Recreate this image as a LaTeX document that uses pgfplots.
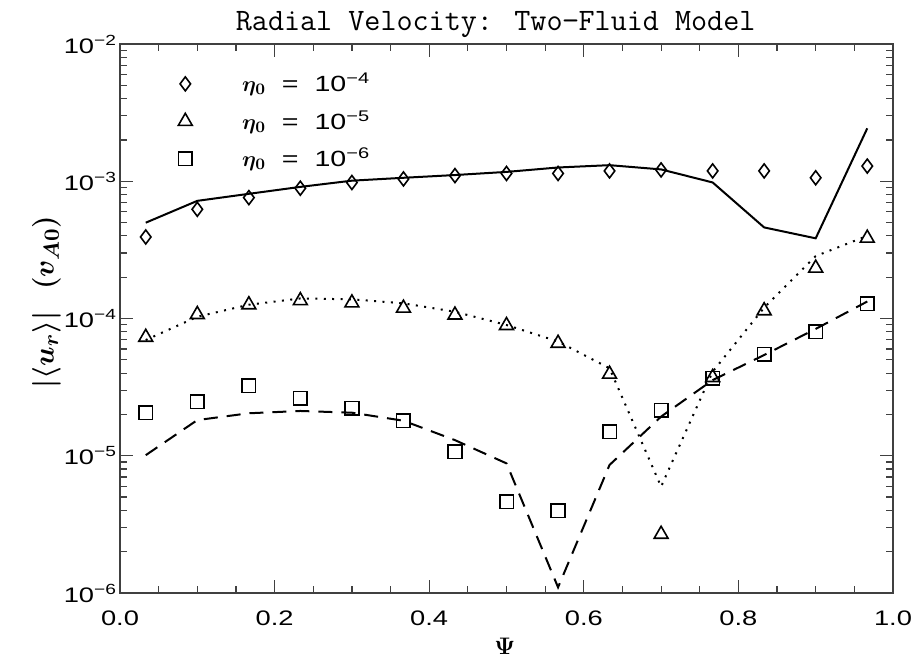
\documentclass[border=0pt]{standalone}
\usepackage{fontspec}
\setmainfont{Liberation Sans}[FakeStretch=1.3]
\usepackage{bm}
\usepackage{pgfplots}
\pgfplotsset{compat=1.18}
\begin{document}
\begin{tikzpicture}
\begin{axis}[
  scale only axis,
  width=386.5bp, height=274.5bp,
  ymode=log,
  xmin=0, xmax=1, ymin=1e-6, ymax=1e-2,
  xtick={0,0.2,0.4,0.6,0.8,1.0},
  xticklabels={0.0,0.2,0.4,0.6,0.8,1.0},
  minor xtick={0.05,0.1,0.15,0.25,0.3,0.35,0.45,0.5,0.55,0.65,0.7,0.75,0.85,0.9,0.95},
  ytick={1e-6,1e-5,1e-4,1e-3,1e-2},
  yticklabels={10\textsuperscript{\textminus 6},10\textsuperscript{\textminus 5},10\textsuperscript{\textminus 4},10\textsuperscript{\textminus 3},10\textsuperscript{\textminus 2}},
  minor ytick={2e-6,3e-6,4e-6,5e-6,6e-6,7e-6,8e-6,9e-6,2e-5,3e-5,4e-5,5e-5,6e-5,7e-5,8e-5,9e-5,2e-4,3e-4,4e-4,5e-4,6e-4,7e-4,8e-4,9e-4,2e-3,3e-3,4e-3,5e-3,6e-3,7e-3,8e-3,9e-3},
  tick align=inside,
  major tick length=6.5bp,
  minor tick length=3.5bp,
  every tick/.append style={black!75, line width=0.6bp},
  axis line style={black!75, line width=0.8bp},
  tick label style={font=\fontsize{10.5bp}{12bp}\selectfont},
  xticklabel style={yshift=-5.5bp},
  yticklabel style={xshift=2bp},
  title={\ttfamily\fontsize{15.6bp}{18bp}\selectfont Radial Velocity: Two\textminus Fluid Model},
  title style={at={(axis description cs:0.486,1)}, anchor=base, yshift=1bp, inner sep=0pt},
  xlabel={$\bm{\Psi}$},
  xlabel style={at={(axis description cs:0.498,-0.097)}, anchor=center, font=\fontsize{13bp}{15bp}\selectfont},
  ylabel={$\bm{\vert\langle u_r\rangle\vert}\ \ \bm{(v_{A0})}$},
  ylabel style={at={(axis description cs:-0.095,0.53)}, anchor=center, font=\fontsize{15bp}{17bp}\selectfont},
  legend style={at={(axis description cs:0.075,0.955)}, anchor=north west, draw=none, fill=none,
    font=\fontsize{11bp}{13bp}\selectfont, row sep=4bp, inner sep=0pt,
    /tikz/every odd column/.append style={column sep=23bp}},
  legend cell align=left,
  clip=false,
]
\addplot[only marks, mark=diamond, mark size=3.5bp, mark options={line width=0.8bp, fill=white}] coordinates {
(0.0333,3.93e-4)(0.1,6.25e-4)(0.1667,7.6e-4)(0.2333,8.9e-4)(0.3,9.8e-4)(0.3667,1.04e-3)(0.4333,1.10e-3)(0.5,1.14e-3)(0.5667,1.14e-3)(0.6333,1.19e-3)(0.7,1.21e-3)(0.7667,1.19e-3)(0.8333,1.19e-3)(0.9,1.06e-3)(0.9667,1.29e-3)};
\addlegendentry{$\bm{\eta}_{\bm{0}}$\ \ =\ \ 10\textsuperscript{\textminus 4}}
\addplot[only marks, mark=triangle, mark size=4bp, mark options={line width=0.8bp}] coordinates {
(0.0333,7.3e-5)(0.1,1.07e-4)(0.1667,1.26e-4)(0.2333,1.35e-4)(0.3,1.30e-4)(0.3667,1.19e-4)(0.4333,1.06e-4)(0.5,8.9e-5)(0.5667,6.6e-5)(0.6333,3.93e-5)(0.7,2.68e-6)(0.7667,3.72e-5)(0.8333,1.14e-4)(0.9,2.33e-4)(0.9667,3.85e-4)};
\addlegendentry{$\bm{\eta}_{\bm{0}}$\ \ =\ \ 10\textsuperscript{\textminus 5}}
\addplot[only marks, mark=square, mark size=3.4bp, mark options={line width=0.8bp}] coordinates {
(0.0333,2.06e-5)(0.1,2.48e-5)(0.1667,3.24e-5)(0.2333,2.62e-5)(0.3,2.21e-5)(0.3667,1.80e-5)(0.4333,1.07e-5)(0.5,4.63e-6)(0.5667,3.98e-6)(0.6333,1.50e-5)(0.7,2.15e-5)(0.7667,3.66e-5)(0.8333,5.48e-5)(0.9,8.0e-5)(0.9667,1.28e-4)};
\addlegendentry{$\bm{\eta}_{\bm{0}}$\ \ =\ \ 10\textsuperscript{\textminus 6}}
\addplot[forget plot, black, line width=1bp] coordinates {
(0.0333,4.99e-4)(0.1,7.2e-4)(0.1667,8.1e-4)(0.2333,9.1e-4)(0.3,1.01e-3)(0.3667,1.06e-3)(0.4333,1.11e-3)(0.5,1.17e-3)(0.5667,1.26e-3)(0.6333,1.31e-3)(0.7,1.22e-3)(0.7667,9.8e-4)(0.8333,4.61e-4)(0.9,3.84e-4)(0.9667,2.43e-3)};
\addplot[forget plot, black, line width=1bp, dash pattern=on 1bp off 3.2bp] coordinates {
(0.0333,6.97e-5)(0.1,1.03e-4)(0.1667,1.26e-4)(0.2333,1.40e-4)(0.3,1.38e-4)(0.3667,1.29e-4)(0.4333,1.12e-4)(0.5,8.97e-5)(0.5667,6.8e-5)(0.6333,4.34e-5)(0.7,5.96e-6)(0.7667,4.1e-5)(0.8333,1.2e-4)(0.9,2.85e-4)(0.9667,4.0e-4)};
\addplot[forget plot, black, line width=1bp, dash pattern=on 7bp off 4.5bp] coordinates {
(0.0333,1.01e-5)(0.1,1.82e-5)(0.1667,2.04e-5)(0.2333,2.12e-5)(0.3,2.06e-5)(0.3667,1.80e-5)(0.4333,1.30e-5)(0.5,8.8e-6)(0.5667,1.1e-6)(0.6333,8.57e-6)(0.7,1.93e-5)(0.7667,3.56e-5)(0.8333,5.42e-5)(0.9,8.4e-5)(0.9667,1.33e-4)};
\end{axis}
\pgfresetboundingbox
\path[use as bounding box] ([shift={(-60bp,-33.5bp)}]current axis.south west) rectangle ([shift={(11bp,22bp)}]current axis.north east);
\end{tikzpicture}
\end{document}
